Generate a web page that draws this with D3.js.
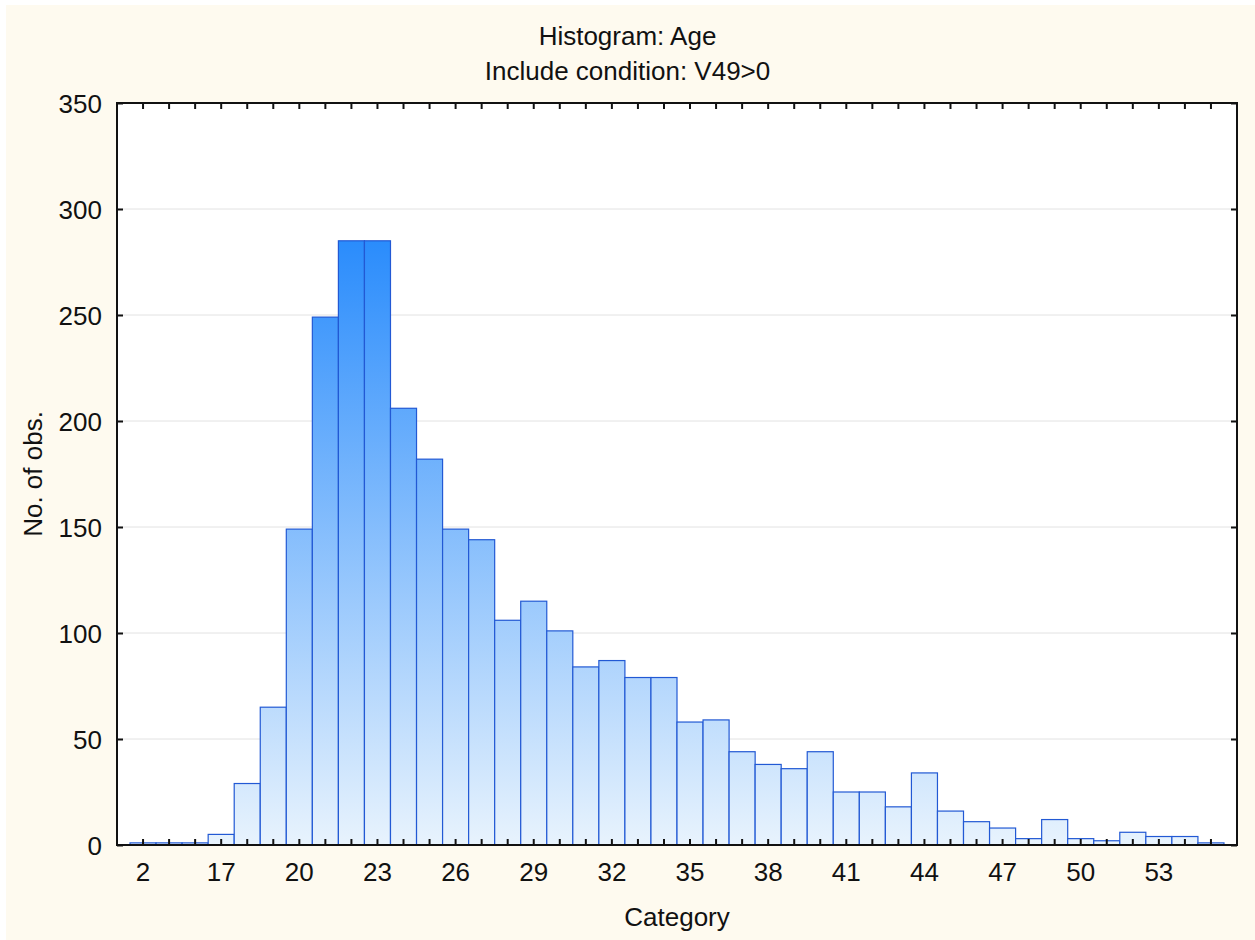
<!DOCTYPE html>
<html>
<head>
<meta charset="utf-8">
<script src="https://cdn.jsdelivr.net/npm/d3@7"></script>
<style>
  html, body { margin: 0; padding: 0; background: #ffffff; }
  svg { display: block; }
  text { font-family: "Liberation Sans", Arial, Helvetica, sans-serif; fill: #111; }
</style>
</head>
<body>
<svg id="chart" width="1255" height="940"></svg>
<script>
const categories = ["2","15","16","17","18","19","20","21","22","23","24","25","26","27","28","29","30","31","32","33","34","35","36","37","38","39","40","41","42","43","44","45","46","47","48","49","50","51","52","53","54","55"];
const counts = [1,1,1,5,29,65,149,249,285,285,206,182,149,144,106,115,101,84,87,79,79,58,59,44,38,36,44,25,25,18,34,16,11,8,3,12,3,2,6,4,4,1];
const yTicks = [0,50,100,150,200,250,300,350];
const titleLines = ["Histogram: Age", "Include condition: V49>0"];
const xTitle = "Category";
const yTitle = "No. of obs.";

const W = 1255, H = 940;
const m = {left: 117, right: 1237, top: 103, bottom: 845};
const FS = 26;

const svg = d3.select("#chart");

// background
svg.append("rect").attr("x", 6).attr("y", 5).attr("width", W - 6).attr("height", H - 5).attr("fill", "#fefaef");
svg.append("rect").attr("x", m.left).attr("y", m.top).attr("width", m.right - m.left).attr("height", m.bottom - m.top).attr("fill", "#ffffff");

const x = d3.scaleBand().domain(categories).range([m.left, m.right]).paddingInner(0).paddingOuter(0.5);
const y = d3.scaleLinear().domain([0, 350]).range([m.bottom, m.top]);

// gradient
const defs = svg.append("defs");
const grad = defs.append("linearGradient").attr("id", "barGrad")
  .attr("gradientUnits", "userSpaceOnUse")
  .attr("x1", 0).attr("x2", 0)
  .attr("y1", y(0)).attr("y2", y(d3.max(counts)));
grad.append("stop").attr("offset", "0%").attr("stop-color", "#e8f3fd");
grad.append("stop").attr("offset", "100%").attr("stop-color", "#2a8cfc");

// gridlines
svg.append("g").selectAll("line").data(yTicks.filter(t => t > 0 && t < 350)).join("line")
  .attr("x1", m.left).attr("x2", m.right)
  .attr("y1", d => y(d)).attr("y2", d => y(d))
  .attr("stroke", "#e2e2e2").attr("stroke-width", 1);

// bars
const data = categories.map((c, i) => ({c, v: counts[i]}));
svg.append("g").selectAll("rect").data(data).join("rect")
  .attr("x", d => x(d.c))
  .attr("y", d => y(d.v))
  .attr("width", x.bandwidth())
  .attr("height", d => y(0) - y(d.v))
  .attr("fill", "url(#barGrad)")
  .attr("stroke", "#2259d4")
  .attr("stroke-width", 1.2);

// axes with inward ticks
const tickLen = 6;

const xBottom = d3.axisBottom(x).tickSize(-tickLen).tickPadding(18)
  .tickFormat((d, i) => (i % 3 === 0 ? d : ""));
const gxb = svg.append("g").attr("transform", `translate(0,${m.bottom})`).call(xBottom);
const xTop = d3.axisTop(x).tickSize(-tickLen).tickFormat("");
const gxt = svg.append("g").attr("transform", `translate(0,${m.top})`).call(xTop);

const yLeft = d3.axisLeft(y).tickValues(yTicks).tickSize(-tickLen).tickPadding(15).tickFormat(d3.format("d"));
const gyl = svg.append("g").attr("transform", `translate(${m.left},0)`).call(yLeft);
const yRight = d3.axisRight(y).tickValues(yTicks).tickSize(-tickLen).tickFormat("");
const gyr = svg.append("g").attr("transform", `translate(${m.right},0)`).call(yRight);

[gxb, gxt, gyl, gyr].forEach(g => {
  g.select(".domain").remove();
  g.selectAll(".tick line").attr("stroke", "#111").attr("stroke-width", 2);
  g.selectAll(".tick text").attr("font-size", FS).attr("fill", "#111")
    .attr("font-family", '"Liberation Sans", Arial, sans-serif');
});
gxb.selectAll(".tick text").attr("dy", "0.71em");
gyl.selectAll(".tick text").attr("dy", "0.35em");

// frame
svg.append("rect").attr("x", m.left).attr("y", m.top)
  .attr("width", m.right - m.left).attr("height", m.bottom - m.top)
  .attr("fill", "none").attr("stroke", "#111").attr("stroke-width", 2);

// titles
svg.append("text").attr("x", W / 2).attr("y", 45).attr("text-anchor", "middle").attr("font-size", FS).text(titleLines[0]);
svg.append("text").attr("x", W / 2).attr("y", 80).attr("text-anchor", "middle").attr("font-size", FS).text(titleLines[1]);
svg.append("text").attr("x", (m.left + m.right) / 2).attr("y", 926).attr("text-anchor", "middle").attr("font-size", FS).text(xTitle);
svg.append("text").attr("transform", `translate(42,${(m.top + m.bottom) / 2}) rotate(-90)`)
  .attr("text-anchor", "middle").attr("font-size", FS).text(yTitle);
</script>
</body>
</html>
